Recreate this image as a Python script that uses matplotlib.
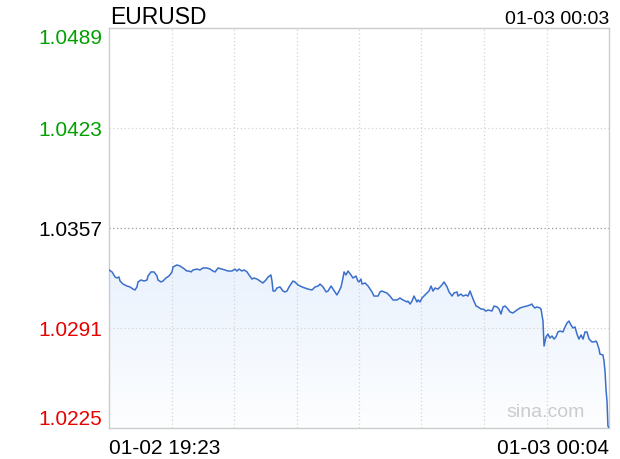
import matplotlib
matplotlib.use("Agg")
import matplotlib.pyplot as plt
import numpy as np

plt.rcParams['font.family'] = ['Liberation Sans', 'DejaVu Sans']

symbol = "EURUSD"
stamp = "01-03 00:03"
start_label = "01-02 19:23"
end_label = "01-03 00:04"
span_minutes = 281  # 19:23 -> 00:04

# minutes since 19:23
minutes = [
    0, 1.7, 3.4, 4.5, 5.6, 6.2, 7.9, 10.1, 11.8, 13.5,
    14.6, 15.7, 16.3, 18.0, 19.7, 21.4, 21.9, 23.6, 25.3, 27.0,
    27.5, 29.2, 30.3, 32.0, 33.7, 35.4, 36.0, 38.2, 39.9, 41.6,
    43.8, 45.0, 46.1, 47.2, 49.5, 51.1, 52.8, 55.1, 56.8, 58.4,
    59.6, 61.3, 63.5, 65.2, 66.9, 69.1, 70.8, 71.9, 73.1, 74.7,
    75.9, 77.6, 78.7, 80.4, 81.5, 83.2, 84.9, 86.5, 88.2, 89.4,
    91.0, 91.6, 92.2, 93.3, 94.4, 96.1, 97.8, 98.9, 100.0, 101.2,
    103.4, 104.5, 106.2, 108.5, 110.2, 111.8, 114.1, 115.8, 117.5, 118.6,
    120.3, 122.0, 123.1, 124.8, 125.9, 128.1, 129.3, 130.4, 131.5, 132.1,
    133.2, 134.3, 136.0, 137.1, 138.8, 139.9, 140.5, 141.6, 142.2, 143.9,
    145.6, 146.7, 147.8, 148.9, 151.2, 152.3, 153.4, 154.6, 156.2, 157.9,
    159.6, 161.9, 163.5, 165.2, 167.5, 168.0, 169.2, 170.3, 171.4, 173.1,
    173.7, 174.8, 175.9, 177.6, 179.8, 181.0, 182.1, 183.2, 184.9, 186.0,
    187.1, 188.3, 190.0, 191.1, 192.8, 193.9, 195.6, 196.1, 197.8, 199.0,
    200.6, 201.8, 202.9, 204.0, 204.6, 206.3, 207.4, 209.1, 210.2, 211.9,
    213.0, 215.2, 216.4, 218.1, 219.2, 220.3, 221.4, 222.6, 223.7, 225.4,
    227.0, 229.3, 231.0, 232.7, 234.9, 236.6, 237.7, 238.3, 239.4, 240.5,
    242.2, 242.8, 243.9, 244.5, 245.6, 246.7, 247.8, 249.0, 250.1, 251.2,
    252.3, 253.5, 255.1, 256.3, 257.4, 258.5, 259.6, 260.8, 261.9, 263.0,
    264.1, 265.3, 266.4, 267.5, 268.6, 269.8, 271.4, 272.6, 273.7, 274.3,
    275.4, 275.9, 277.6, 278.2, 278.8, 279.3, 279.9, 280.4, 281.0,
]

prices = [
    1.03293, 1.03280, 1.03247, 1.03240, 1.03247, 1.03220, 1.03200, 1.03187, 1.03181, 1.03167,
    1.03161, 1.03181, 1.03214, 1.03227, 1.03220, 1.03227, 1.03253, 1.03280, 1.03280, 1.03253,
    1.03227, 1.03214, 1.03220, 1.03240, 1.03253, 1.03280, 1.03313, 1.03326, 1.03319, 1.03306,
    1.03286, 1.03286, 1.03280, 1.03293, 1.03299, 1.03293, 1.03306, 1.03306, 1.03299, 1.03286,
    1.03280, 1.03306, 1.03299, 1.03293, 1.03286, 1.03286, 1.03299, 1.03286, 1.03299, 1.03286,
    1.03293, 1.03280, 1.03260, 1.03233, 1.03240, 1.03233, 1.03220, 1.03207, 1.03227, 1.03247,
    1.03260, 1.03220, 1.03154, 1.03154, 1.03174, 1.03181, 1.03154, 1.03148, 1.03154, 1.03181,
    1.03220, 1.03214, 1.03194, 1.03181, 1.03174, 1.03167, 1.03161, 1.03181, 1.03187, 1.03200,
    1.03181, 1.03148, 1.03154, 1.03187, 1.03167, 1.03128, 1.03154, 1.03181, 1.03240, 1.03280,
    1.03260, 1.03286, 1.03260, 1.03240, 1.03253, 1.03220, 1.03214, 1.03233, 1.03200, 1.03207,
    1.03187, 1.03167, 1.03148, 1.03121, 1.03121, 1.03148, 1.03154, 1.03148, 1.03141, 1.03121,
    1.03095, 1.03095, 1.03108, 1.03095, 1.03082, 1.03088, 1.03068, 1.03088, 1.03121, 1.03082,
    1.03095, 1.03082, 1.03108, 1.03128, 1.03154, 1.03187, 1.03154, 1.03174, 1.03167, 1.03181,
    1.03194, 1.03214, 1.03181, 1.03148, 1.03121, 1.03141, 1.03148, 1.03121, 1.03134, 1.03121,
    1.03128, 1.03121, 1.03154, 1.03121, 1.03101, 1.03055, 1.03049, 1.03035, 1.03035, 1.03022,
    1.03029, 1.03022, 1.03055, 1.03049, 1.03035, 1.03002, 1.03049, 1.03055, 1.03042, 1.03016,
    1.03009, 1.03029, 1.03042, 1.03049, 1.03055, 1.03062, 1.03068, 1.03055, 1.03042, 1.03049,
    1.03042, 1.03035, 1.02956, 1.02791, 1.02851, 1.02870, 1.02844, 1.02857, 1.02837, 1.02851,
    1.02884, 1.02890, 1.02884, 1.02917, 1.02943, 1.02956, 1.02930, 1.02910, 1.02917, 1.02870,
    1.02837, 1.02864, 1.02837, 1.02884, 1.02884, 1.02837, 1.02818, 1.02818, 1.02824, 1.02811,
    1.02771, 1.02738, 1.02732, 1.02692, 1.02619, 1.02507, 1.02422, 1.02263, 1.02250,
]

y_ticks = [1.0225, 1.0291, 1.0357, 1.0423, 1.0489]
y_colors = ['#e60000', '#e60000', '#000000', '#00a000', '#00a000']
prev_close = 1.0357

fig = plt.figure(figsize=(6.2, 4.6), dpi=100)
ax = fig.add_axes([109 / 620, 31 / 460, 500 / 620, 400 / 460])

x = np.array(minutes)
y = np.array(prices)

# gradient fill under the line
grad = np.linspace(0, 1, 256)[:, None, None]
top_c = np.array([234, 242, 253]) / 255
bot_c = np.array([253, 254, 255]) / 255
img = top_c * (1 - grad) + bot_c * grad
im = ax.imshow(img, extent=[0, span_minutes, y_ticks[0], y.max()],
               aspect='auto', origin='upper', zorder=1)
poly = ax.fill_between(x, y, y_ticks[0], color='none', lw=0)
im.set_clip_path(poly.get_paths()[0], transform=ax.transData)
ax.set_xlim(0, span_minutes)
ax.set_ylim(y_ticks[0], y_ticks[-1])

ax.plot(x, y, color='#3a6fcc', lw=1.1, zorder=3)

# grid
for k in range(1, 8):
    ax.axvline(span_minutes * k / 8, color='#d4d4d4', lw=0.9, ls=(0, (1, 2)), zorder=2)
for v in y_ticks[1:-1]:
    c = '#999999' if v == prev_close else '#d4d4d4'
    ax.axhline(v, color=c, lw=0.9, ls=(0, (1, 2)), zorder=2)

for s in ax.spines.values():
    s.set_color('#cccccc')
    s.set_linewidth(1)

ax.set_yticks(y_ticks)
ax.set_yticklabels([f"{v:.4f}" for v in y_ticks], fontsize=15)
ax.tick_params(axis='y', length=0, pad=5)
ylabs = ax.get_yticklabels()
for lab, c in zip(ylabs, y_colors):
    lab.set_color(c)
ylabs[0].set_va('bottom')
ylabs[-1].set_va('top')

ax.set_xticks([0, span_minutes])
ax.set_xticklabels([start_label, end_label], fontsize=15)
ax.tick_params(axis='x', length=0, pad=7)
xlabs = ax.get_xticklabels()
xlabs[0].set_ha('left')
xlabs[1].set_ha('right')

fig.text(110 / 620, 1 - 24 / 460, symbol, fontsize=16.5, ha='left', va='baseline')
fig.text(609 / 620, 1 - 24 / 460, stamp, fontsize=14, ha='right', va='baseline')
ax.text(0.952, 0.04, "sina.com", transform=ax.transAxes, fontsize=14,
        color='#cccccc', ha='right', va='center', zorder=4)

fig.savefig("out.png", dpi=100)
